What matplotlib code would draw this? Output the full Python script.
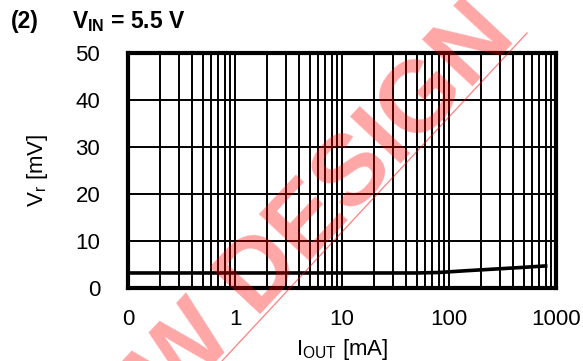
import matplotlib
matplotlib.use("Agg")
import matplotlib.pyplot as plt
from matplotlib.ticker import FixedLocator, NullFormatter
from matplotlib.lines import Line2D

plt.rcParams['font.family'] = ['Liberation Sans', 'DejaVu Sans']
plt.rcParams['mathtext.fontset'] = 'custom'
plt.rcParams['mathtext.rm'] = 'Liberation Sans'
plt.rcParams['mathtext.it'] = 'Liberation Sans'
plt.rcParams['mathtext.bf'] = 'Liberation Sans:bold'

# data
iout = [0.1, 1, 10, 50, 80, 150, 300, 500, 800]
vr = [3.2, 3.2, 3.2, 3.2, 3.3, 3.7, 4.1, 4.4, 4.7]

xticks = [0.1, 1, 10, 100, 1000]
xticklabels = ["0", "1", "10", "100", "1000"]
yticks = [0, 10, 20, 30, 40, 50]

fig = plt.figure(figsize=(5.83, 3.61), dpi=100)
ax = fig.add_axes([0.2196, 0.2022, 0.7341, 0.6508])

ax.set_xscale("log")
ax.set_xlim(0.1, 1000)
ax.set_ylim(0, 50)

minor = [m * 10.0 ** e for e in range(-1, 3) for m in range(2, 10)]
ax.xaxis.set_major_locator(FixedLocator(xticks))
ax.xaxis.set_minor_locator(FixedLocator(minor))
ax.xaxis.set_minor_formatter(NullFormatter())
ax.set_xticks(xticks)
ax.set_xticklabels(xticklabels)
ax.set_yticks(yticks)

ax.grid(True, which="both", axis="x", color="black", lw=1.4)
ax.grid(True, which="major", axis="y", color="black", lw=1.4)
ax.tick_params(which="both", length=0, labelsize=16)
ax.tick_params(axis="x", pad=15)
ax.tick_params(axis="y", pad=20)

for s in ax.spines.values():
    s.set_linewidth(3)

ax.plot(iout, vr, color="black", lw=2.6, zorder=5)

ax.set_xlabel(r"I$_\mathregular{OUT}$ [mA]", fontsize=16, labelpad=5)
ax.set_ylabel(r"V$_\mathregular{r}$ [mV]", fontsize=16, labelpad=18)

fig.text(0.019, 0.94, "(2)", fontsize=16.5, fontweight="bold", va="center")
fig.text(0.123, 0.94, r"V$_\mathbf{IN}$ = 5.5 V", fontsize=16.5, fontweight="bold", va="center")

# watermark
fig.text(518 / 583, 1 - 38 / 361, "NOT RECOMMENDED FOR NEW DESIGN", fontsize=72, fontweight="bold",
         color="red", alpha=0.35, rotation=47, rotation_mode="anchor",
         ha="right", va="baseline", zorder=10)
fig.add_artist(Line2D([222 / 583, 527 / 583], [0.0, 1 - 33 / 361],
                      transform=fig.transFigure, color="red", alpha=0.5, lw=0.9, zorder=10))

fig.savefig("out.png", dpi=100)
